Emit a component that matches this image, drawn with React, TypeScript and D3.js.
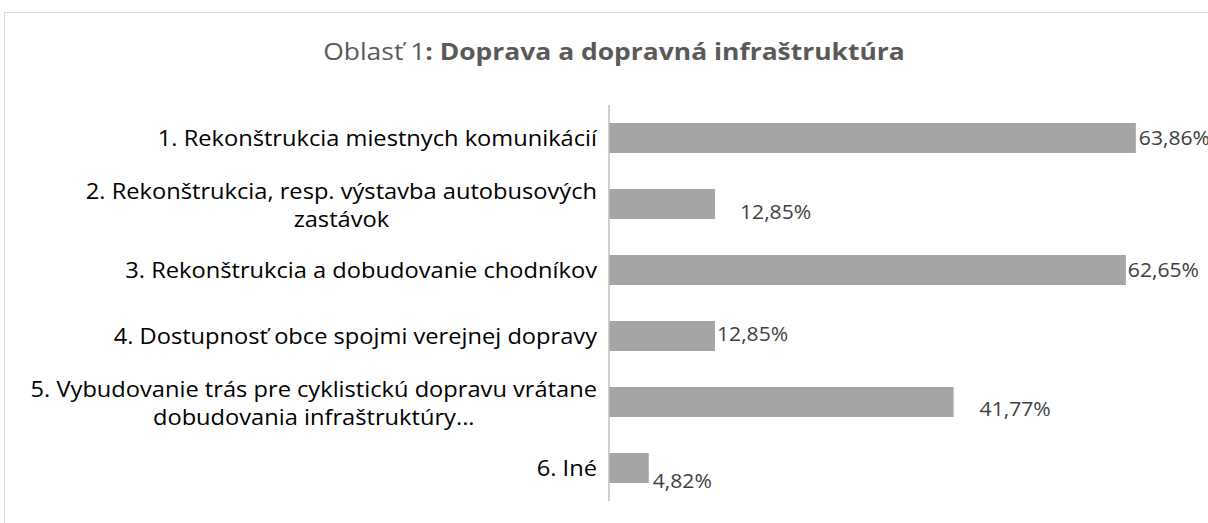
import React from "react";
import * as d3 from "d3";

const categories: string[][] = [
  ["1. Rekonštrukcia miestnych komunikácií"],
  ["2. Rekonštrukcia, resp. výstavba autobusových", "zastávok"],
  ["3. Rekonštrukcia a dobudovanie chodníkov"],
  ["4. Dostupnosť obce spojmi verejnej dopravy"],
  ["5. Vybudovanie trás pre cyklistickú dopravu vrátane", "dobudovania infraštruktúry..."],
  ["6. Iné"],
];
const values: number[] = [63.86, 12.85, 62.65, 12.85, 41.77, 4.82];
const valueLabels: string[] = ["63,86%", "12,85%", "62,65%", "12,85%", "41,77%", "4,82%"];
const titleRegular = "Oblasť 1";
const titleBold = ": Doprava a dopravná infraštruktúra";

// manual nudges of data labels (as placed in the original chart)
const labelNudges: [number, number][] = [
  [3, 0],
  [25, 8],
  [2, 0],
  [2, -2],
  [26, 7],
  [4, 13],
];

const W = 1208;
const H = 523;
const FONT = "'Open Sans', sans-serif";
const CAT_SIZE = 21.5;
const CAT_SX = 1.1;
const VAL_SIZE = 20.5;
const VAL_SX = 1.03;

function stretch(ax: number, sx: number) {
  return `translate(${ax},0) scale(${sx},1) translate(${-ax},0)`;
}

export default function App() {
  const ids = categories.map((_, i) => String(i));
  const y = d3
    .scaleBand<string>()
    .domain(ids)
    .range([105, 501])
    .paddingInner(0.545)
    .paddingOuter(0.2725);
  const x = d3.scaleLinear().domain([0, 70]).range([609, 1186.5]);
  const labelRight = 597;
  const lineH = 27.5;

  return (
    <svg
      width={W}
      height={H}
      style={{ position: "absolute", left: 0, top: 0, background: "#fff" }}
      fontFamily={FONT}
    >
      <rect x={4.5} y={12.5} width={W + 20} height={H + 20} fill="#fff" stroke="#d9d9d9" strokeWidth={1} />
      <g transform={stretch(614, 1.125)}>
        <text x={614} y={60} textAnchor="middle" fontSize={23.5} fill="#595959">
          <tspan>{titleRegular}</tspan>
          <tspan fontWeight="bold">{titleBold}</tspan>
        </text>
      </g>
      {values.map((v, i) => {
        const y0 = y(ids[i])!;
        return (
          <rect key={"b" + i} x={x(0)} y={y0} width={x(v) - x(0)} height={y.bandwidth()} fill="#a5a5a5" />
        );
      })}
      <line x1={x(0)} x2={x(0)} y1={105} y2={501} stroke="#bfbfbf" strokeWidth={1.5} />
      {values.map((v, i) => {
        const cy = y(ids[i])! + y.bandwidth() / 2;
        const lx = x(v) + labelNudges[i][0];
        return (
          <g key={"v" + i} transform={stretch(lx, VAL_SX)}>
            <text x={lx} y={cy + labelNudges[i][1] + 7.3} fontSize={VAL_SIZE} fill="#404040">
              {valueLabels[i]}
            </text>
          </g>
        );
      })}
      {categories.map((lines, i) => {
        const cy = y(ids[i])! + y.bandwidth() / 2;
        if (lines.length === 1) {
          return (
            <g key={"c" + i} transform={stretch(labelRight, CAT_SX)}>
              <text x={labelRight} y={cy + 8.5} textAnchor="end" fontSize={CAT_SIZE} fill="#000">
                {lines[0]}
              </text>
            </g>
          );
        }
        return (
          <g key={"c" + i} transform={stretch(labelRight, CAT_SX)}>
            <CenteredBlock lines={lines} right={labelRight} baseY={cy + 9} lineH={lineH} />
          </g>
        );
      })}
    </svg>
  );
}

function CenteredBlock({
  lines,
  right,
  baseY,
  lineH,
}: {
  lines: string[];
  right: number;
  baseY: number;
  lineH: number;
}) {
  const ref = React.useRef<SVGGElement>(null);
  const [cx, setCx] = React.useState<number | null>(null);
  React.useLayoutEffect(() => {
    if (!ref.current) return;
    const texts = Array.from(ref.current.querySelectorAll("text")) as SVGTextElement[];
    const maxW = d3.max(texts, (t) => t.getComputedTextLength()) || 0;
    setCx(right - maxW / 2);
  }, [lines, right]);
  const n = lines.length;
  return (
    <g ref={ref} style={{ visibility: cx === null ? "hidden" : "visible" }}>
      {lines.map((l, j) => (
        <text
          key={j}
          x={cx ?? right}
          y={baseY + (j - (n - 1) / 2) * lineH}
          textAnchor="middle"
          fontSize={CAT_SIZE}
          fill="#000"
        >
          {l}
        </text>
      ))}
    </g>
  );
}
